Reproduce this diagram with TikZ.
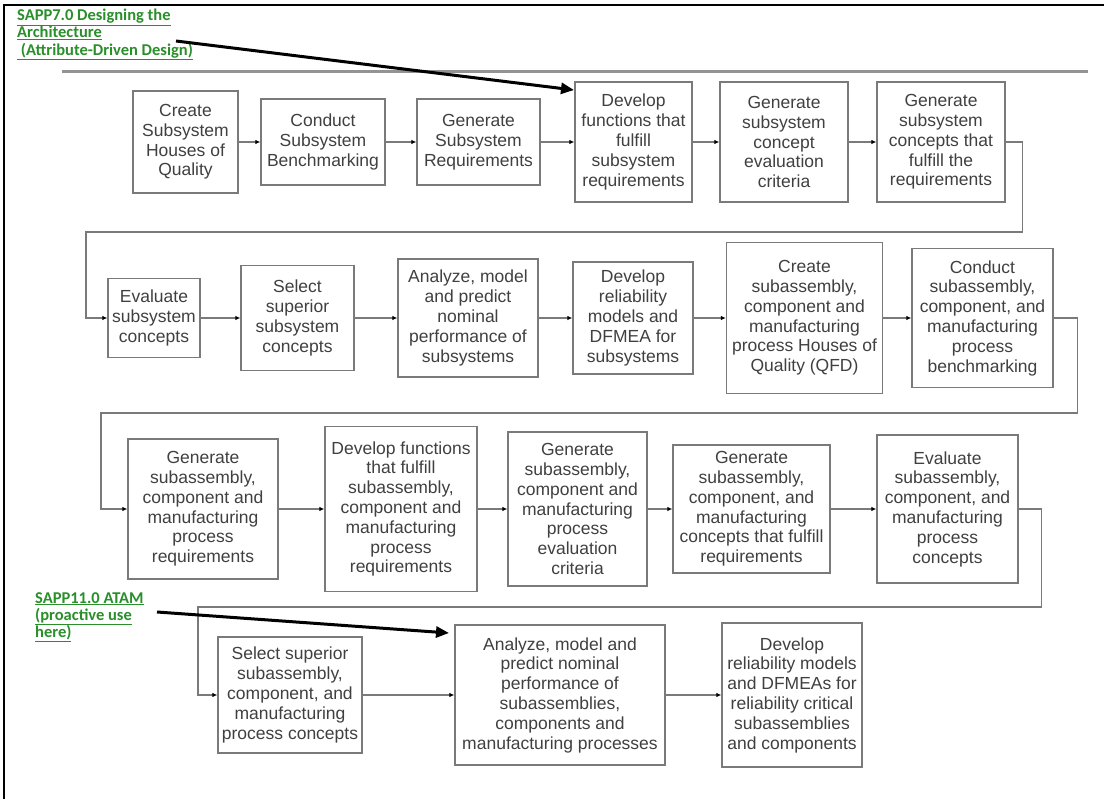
\documentclass[tikz,border=0pt]{standalone}
\usepackage{fontspec}
\setmainfont{Liberation Sans}
\newfontfamily\labelfont{Carlito}
\usetikzlibrary{arrows.meta}
\definecolor{boxline}{HTML}{7A7A7A}
\definecolor{boxtext}{HTML}{404040}
\definecolor{linkgreen}{HTML}{2A8F2A}
\begin{document}
\begin{tikzpicture}[x=1pt,y=-1pt,
  stepbox/.style={draw=boxline, line width=1.3pt, text=boxtext, align=center,
    font=\fontsize{17.5}{19.8}\selectfont, inner sep=0pt},
  flow/.style={draw=boxline, line width=1.2pt,
    -{Latex[length=5pt,width=4.5pt,fill=black,color=black]}},
  pointer/.style={draw=black, line width=3pt,
    -{Triangle[length=13pt,width=11pt]}},
  sapp/.style={text=linkgreen, align=left, anchor=north west, inner sep=0pt,
    font=\labelfont\bfseries\fontsize{16.5}{17.2}\selectfont}
]
\useasboundingbox (0,0) rectangle (1104,799);
\fill[white] (0,0) rectangle (1104,799);

% page frame (top and left edges) and separator rule
\draw[line width=2pt] (4,799) -- (4,5) -- (1104,5);
\draw[line width=3pt, color=gray!85] (62,72) -- (1088,72);

% row 1
\node[stepbox, minimum width=105pt, minimum height=102pt] (b1) at (185.5,142) {Create\\Subsystem\\Houses of\\Quality};
\node[stepbox, minimum width=124pt, minimum height=86pt] (b2) at (323,142) {Conduct\\Subsystem\\Benchmarking};
\node[stepbox, minimum width=123pt, minimum height=86pt] (b3) at (478.5,142) {Generate\\Subsystem\\Requirements};
\node[stepbox, minimum width=117pt, minimum height=120pt] (b4) at (633.5,142) {Develop\\functions that\\fulfill\\subsystem\\requirements};
\node[stepbox, minimum width=128pt, minimum height=120pt] (b5) at (784,142) {Generate\\subsystem\\concept\\evaluation\\criteria};
\node[stepbox, minimum width=128pt, minimum height=120pt] (b6) at (941,142) {Generate\\subsystem\\concepts that\\fulfill the\\requirements};

% row 2
\node[stepbox, minimum width=92pt, minimum height=79pt] (b7) at (154,318) {Evaluate\\subsystem\\concepts};
\node[stepbox, minimum width=113pt, minimum height=105pt] (b8) at (297.5,318) {Select\\superior\\subsystem\\concepts};
\node[stepbox, minimum width=140pt, minimum height=118pt] (b9) at (468,318) {Analyze, model\\and predict\\nominal\\performance of\\subsystems};
\node[stepbox, minimum width=120pt, minimum height=112pt] (b10) at (633,318) {Develop\\reliability\\models and\\DFMEA for\\subsystems};
\node[stepbox, minimum width=156pt, minimum height=151pt] (b11) at (804.5,318) {Create\\subassembly,\\component and\\manufacturing\\process Houses of\\Quality (QFD)};
\node[stepbox, minimum width=141pt, minimum height=139pt] (b12) at (982.5,318) {Conduct\\subassembly,\\component, and\\manufacturing\\process\\benchmarking};

% row 3
\node[stepbox, minimum width=150pt, minimum height=140pt] (b13) at (203,509) {Generate\\subassembly,\\component and\\manufacturing\\process\\requirements};
\node[stepbox, minimum width=152pt, minimum height=165pt] (b14) at (401,509) {Develop functions\\that fulfill\\subassembly,\\component and\\manufacturing\\process\\requirements};
\node[stepbox, minimum width=139pt, minimum height=154pt] (b15) at (577.5,509) {Generate\\subassembly,\\component and\\manufacturing\\process\\evaluation\\criteria};
\node[stepbox, minimum width=157pt, minimum height=128pt] (b16) at (751.5,509) {Generate\\subassembly,\\component, and\\manufacturing\\concepts that fulfill\\requirements};
\node[stepbox, minimum width=141pt, minimum height=148pt] (b17) at (947.5,509) {Evaluate\\subassembly,\\component, and\\manufacturing\\process\\concepts};

% row 4
\node[stepbox, minimum width=144pt, minimum height=116pt] (b18) at (290,695) {Select superior\\subassembly,\\component, and\\manufacturing\\process concepts};
\node[stepbox, minimum width=210pt, minimum height=140pt] (b19) at (560,695) {Analyze, model and\\predict nominal\\performance of\\subassemblies,\\components and\\manufacturing processes};
\node[stepbox, minimum width=140pt, minimum height=144pt] (b20) at (792,695) {Develop\\reliability models\\and DFMEAs for\\reliability critical\\subassemblies\\and components};

% connectors within rows
\foreach \a/\b in {b1/b2, b2/b3, b3/b4, b4/b5, b5/b6,
                   b7/b8, b8/b9, b9/b10, b10/b11, b11/b12,
                   b13/b14, b14/b15, b15/b16, b16/b17,
                   b18/b19, b19/b20}
  \draw[flow] (\a) -- (\b);

% connectors wrapping from one row to the next
\draw[flow] (b6.east) -- ++(17,0) |- (86,232) |- (b7.west);
\draw[flow] (b12.east) -- ++(24,0) |- (101,413) |- (b13.west);
\draw[flow] (b17.east) -- ++(23,0) |- (198,607) |- (b18.west);

% green references with pointers
\node[sapp] (adr) at (17,9) {\underline{SAPP7.0 Designing the}\\\underline{Architecture}\\\underline{\ (Attribute-Driven Design)}};
\node[sapp] (atam) at (35,592) {\underline{SAPP11.0 ATAM}\\\underline{(proactive use}\\\underline{here)}};
\coordinate (adrtail) at (176,41);
\coordinate (adrtip) at (574,90);
\coordinate (atamtail) at (157,612);
\coordinate (atamtip) at (449,633);
\draw[pointer] (adrtail) -- (adrtip);
\draw[pointer] (atamtail) -- (atamtip);
\end{tikzpicture}
\end{document}
